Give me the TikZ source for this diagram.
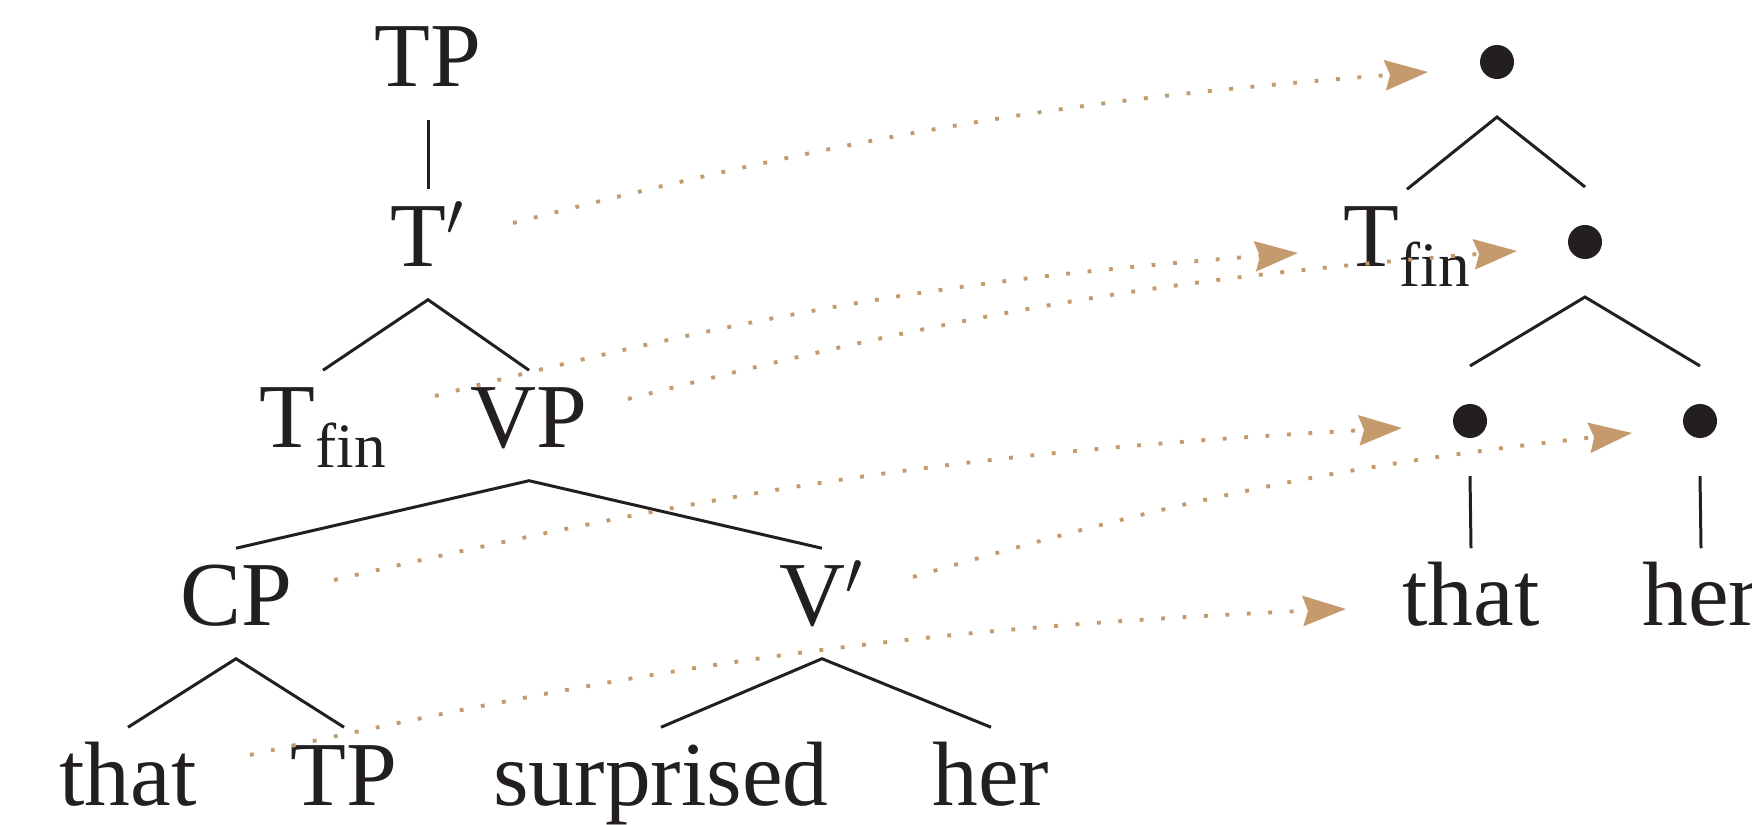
\documentclass[tikz,border=0pt]{standalone}
\usepackage{fontspec}
\setmainfont{Liberation Serif}
\usetikzlibrary{arrows.meta}
\definecolor{ink}{RGB}{35,31,32}
\definecolor{trace}{RGB}{197,154,108}
\newcommand{\subfin}{\raisebox{-0.19cm}{\fontsize{18}{18}\selectfont f{}in}}
\begin{document}
\begin{tikzpicture}[x=0.01cm, y=-0.01cm,
        word/.style={inner sep=0pt, anchor=base, text height=0.77cm, text depth=0.32cm, font=\fontsize{26}{30}\selectfont, text=ink},
        bullet/.style={circle, fill=ink, inner sep=0pt, minimum size=0.34cm, outer sep=0.38cm},
        branch/.style={ink, line width=0.85pt},
        link/.style={trace, line width=1.1pt, dash pattern=on 1.1pt off 5pt, -{Stealth[length=0.43cm, width=0.30cm, inset=0.05cm]}}
    ]
    \useasboundingbox (0,0) rectangle (1752,825);

    % Phrase structure tree
    \node[word] (tp) at (428,87) {TP};
    \node[word] (tbar) at (428,267) {T$'$};
    \node[word] (tfin) at (323,448) {T\subfin};
    \node[word] (vp) at (529,448) {VP};
    \node[word] (cp) at (236,626) {CP};
    \node[word] (vbar) at (822,626) {V$'$};
    \node[word] (that) at (128,805) {that};
    \node[word] (tp2) at (344,805) {TP};
    \node[word] (surprised) at (661,805) {surprised};
    \node[word] (her) at (991,805) {her};

    \draw[branch] (tp.south) -- (tbar.north);
    \draw[branch] (tfin.north) -- (tbar.south) -- (vp.north);
    \draw[branch] (cp.north) -- (vp.south) -- (vbar.north);
    \draw[branch] (that.north) -- (cp.south) -- (tp2.north);
    \draw[branch] (surprised.north) -- (vbar.south) -- (her.north);

    % Bare tree
    \node[bullet] (d1) at (1497,62) {};
    \node[word] (rtfin) at (1407,267) {T\subfin};
    \node[bullet] (d2) at (1585,242) {};
    \node[bullet] (d3) at (1470,421) {};
    \node[bullet] (d4) at (1700,421) {};
    \node[word] (rthat) at (1471,626) {that};
    \node[word] (rher) at (1701,626) {her};

    \draw[branch] (rtfin.north) -- (d1.south) -- (d2.north);
    \draw[branch] (d3.north) -- (d2.south) -- (d4.north);
    \draw[branch] (d3.south) -- (rthat.north);
    \draw[branch] (d4.south) -- (rher.north);

    % Mapping arrows (dotted)
    \draw[link] ([shift={(85,-44)}]tbar.base) to[bend left=5] ([shift={(-69,10)}]d1.center);
    \draw[link] ([shift={(112,-52)}]tfin.base) to[bend left=5] ([shift={(-109,-14)}]rtfin.base);
    \draw[link] ([shift={(99,-49)}]vp.base) to[bend left=5] ([shift={(-68,9)}]d2.center);
    \draw[link] ([shift={(98,-46)}]cp.base) to[bend left=5] ([shift={(-68,7)}]d3.center);
    \draw[link] ([shift={(91,-49)}]vbar.base) to[bend left=5] ([shift={(-68,12)}]d4.center);
    \draw[link] ([shift={(-94,-50)}]tp2.base) to[bend left=5] ([shift={(-125,-17)}]rthat.base);

\end{tikzpicture}
\end{document}
